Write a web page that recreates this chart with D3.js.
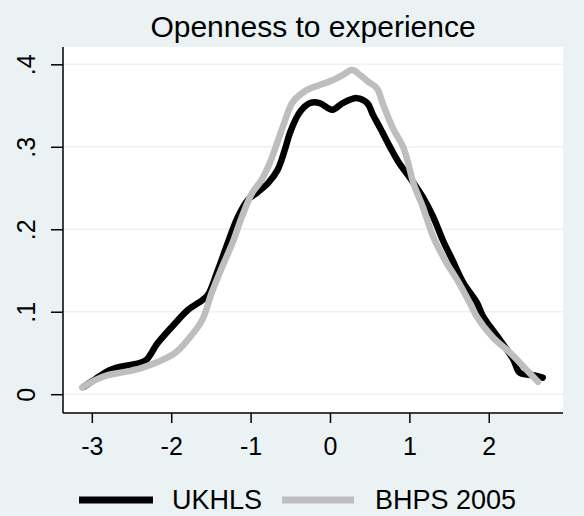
<!DOCTYPE html>
<html>
<head>
<meta charset="utf-8">
<script src="https://cdn.jsdelivr.net/npm/d3@7"></script>
<style>
  html, body { margin: 0; padding: 0; background: #eaf2f3; }
  svg { display: block; font-family: "Liberation Sans", Arial, sans-serif; }
</style>
</head>
<body>
<div id="chart"></div>
<script>
// kernel density estimates
var title = "Openness to experience"
var xTicks = [-3, -2, -1, 0, 1, 2]
var yTicks = [0, 0.1, 0.2, 0.3, 0.4]
var yTickLabels = ["0", ".1", ".2", ".3", ".4"]
var seriesNames = ["UKHLS", "BHPS 2005"]

var ukhls = [
  [-3.10, 0.009], [-2.96, 0.018], [-2.80, 0.028], [-2.65, 0.033], [-2.39, 0.038],
  [-2.31, 0.042], [-2.17, 0.062], [-1.95, 0.086], [-1.79, 0.102], [-1.61, 0.114],
  [-1.54, 0.120], [-1.41, 0.151], [-1.29, 0.183], [-1.16, 0.215], [-1.03, 0.236],
  [-0.91, 0.245], [-0.78, 0.256], [-0.66, 0.272], [-0.57, 0.296], [-0.50, 0.318],
  [-0.38, 0.342], [-0.25, 0.353], [-0.13, 0.353], [0.03, 0.345], [0.16, 0.353],
  [0.34, 0.359], [0.47, 0.353], [0.54, 0.339], [0.63, 0.323], [0.76, 0.299],
  [0.86, 0.282], [1.01, 0.262], [1.17, 0.239], [1.30, 0.215], [1.42, 0.187],
  [1.54, 0.163], [1.68, 0.135], [1.85, 0.111], [1.93, 0.094], [2.14, 0.066],
  [2.31, 0.042], [2.39, 0.026], [2.56, 0.023], [2.68, 0.020]
]

var bhps = [
  [-3.12, 0.008], [-2.96, 0.017], [-2.80, 0.023], [-2.58, 0.027], [-2.37, 0.032],
  [-2.17, 0.039], [-1.95, 0.050], [-1.79, 0.066], [-1.61, 0.090], [-1.49, 0.123],
  [-1.36, 0.154], [-1.23, 0.183], [-1.11, 0.215], [-0.98, 0.244], [-0.86, 0.260],
  [-0.76, 0.280], [-0.69, 0.298], [-0.58, 0.328], [-0.47, 0.354], [-0.29, 0.369],
  [-0.13, 0.375], [0.04, 0.381], [0.16, 0.387], [0.28, 0.393], [0.38, 0.387],
  [0.48, 0.379], [0.59, 0.371], [0.67, 0.351], [0.79, 0.323], [0.92, 0.300],
  [0.98, 0.282], [1.05, 0.256], [1.17, 0.227], [1.30, 0.191], [1.47, 0.159],
  [1.60, 0.139], [1.76, 0.111], [1.85, 0.094], [2.05, 0.069], [2.27, 0.050],
  [2.48, 0.029], [2.62, 0.015]
]

var width = 584, height = 516
var plot = { left: 63, right: 563, top: 47, bottom: 413 }

var svg = d3.select("#chart").append("svg")
  .attr("width", width)
  .attr("height", height)

svg.append("rect")
  .attr("width", width).attr("height", height)
  .attr("fill", "#eaf2f3")

var x = d3.scaleLinear().domain([-3.363, 2.935]).range([plot.left, plot.right])
var y = d3.scaleLinear().domain([-0.0228, 0.421]).range([plot.bottom, plot.top])

svg.append("rect")
  .attr("x", plot.left).attr("y", plot.top)
  .attr("width", plot.right - plot.left).attr("height", plot.bottom - plot.top)
  .attr("fill", "#ffffff")

// grid
svg.append("g")
  .selectAll("line")
  .data(yTicks)
  .enter().append("line")
  .attr("x1", plot.left).attr("x2", plot.right)
  .attr("y1", d => y(d)).attr("y2", d => y(d))
  .attr("stroke", "#eaf2f3")
  .attr("stroke-width", 1.5)

var line = d3.line()
  .x(d => x(d[0]))
  .y(d => y(d[1]))
  .curve(d3.curveCatmullRom)

svg.append("path")
  .datum(ukhls)
  .attr("d", line)
  .attr("fill", "none")
  .attr("stroke", "#000000")
  .attr("stroke-width", 6.5)
  .attr("stroke-linejoin", "round")
  .attr("stroke-linecap", "round")

svg.append("path")
  .datum(bhps)
  .attr("d", line)
  .attr("fill", "none")
  .attr("stroke", "#bebebe")
  .attr("stroke-width", 6.5)
  .attr("stroke-linejoin", "round")
  .attr("stroke-linecap", "round")

// axes
var yAxis = svg.append("g")
  .attr("transform", "translate(" + plot.left + ",0)")
  .call(d3.axisLeft(y).tickValues(yTicks).tickSize(12).tickPadding(0)
    .tickFormat((d, i) => yTickLabels[i]))
yAxis.select(".domain").remove()
yAxis.append("line")
  .attr("y1", plot.top).attr("y2", plot.bottom)
  .attr("stroke", "#000").attr("stroke-width", 1.5)
yAxis.selectAll(".tick line").attr("stroke", "#000").attr("stroke-width", 1.5)
yAxis.selectAll(".tick text")
  .attr("x", null).attr("dy", null)
  .attr("transform", "translate(-28,0) rotate(-90)")
  .attr("text-anchor", "middle")
  .attr("font-size", 25)
  .attr("font-family", "Liberation Sans, Arial, sans-serif")
  .attr("fill", "#000")

var xAxis = svg.append("g")
  .attr("transform", "translate(0," + plot.bottom + ")")
  .call(d3.axisBottom(x).tickValues(xTicks).tickSize(10).tickPadding(0)
    .tickFormat(d3.format("d")))
xAxis.select(".domain").remove()
xAxis.append("line")
  .attr("x1", plot.left).attr("x2", plot.right)
  .attr("stroke", "#000").attr("stroke-width", 1.5)
xAxis.selectAll(".tick line").attr("stroke", "#000").attr("stroke-width", 1.5)
xAxis.selectAll(".tick text")
  .attr("y", 42).attr("dy", null)
  .attr("font-size", 25)
  .attr("font-family", "Liberation Sans, Arial, sans-serif")
  .attr("fill", "#000")
  .text(d => d < 0 ? "-" + Math.abs(d) : d)

// title, centred over the plot region
svg.append("text")
  .attr("x", (plot.left + plot.right) / 2).attr("y", 37)
  .attr("text-anchor", "middle")
  .attr("font-size", 30)
  .attr("fill", "#000")
  .text(title)

// legend
var legend = svg.append("g")
var legendItems = [
  { name: seriesNames[0], color: "#000000", x1: 79, x2: 153, tx: 172 },
  { name: seriesNames[1], color: "#bebebe", x1: 282, x2: 354, tx: 375 }
]
legendItems.forEach(function(d) {
  legend.append("line")
    .attr("x1", d.x1).attr("x2", d.x2)
    .attr("y1", 500).attr("y2", 500)
    .attr("stroke", d.color)
    .attr("stroke-width", 7)
  legend.append("text")
    .attr("x", d.tx).attr("y", 509)
    .attr("font-size", 27)
    .attr("fill", "#000")
    .text(d.name)
})
</script>
</body>
</html>
